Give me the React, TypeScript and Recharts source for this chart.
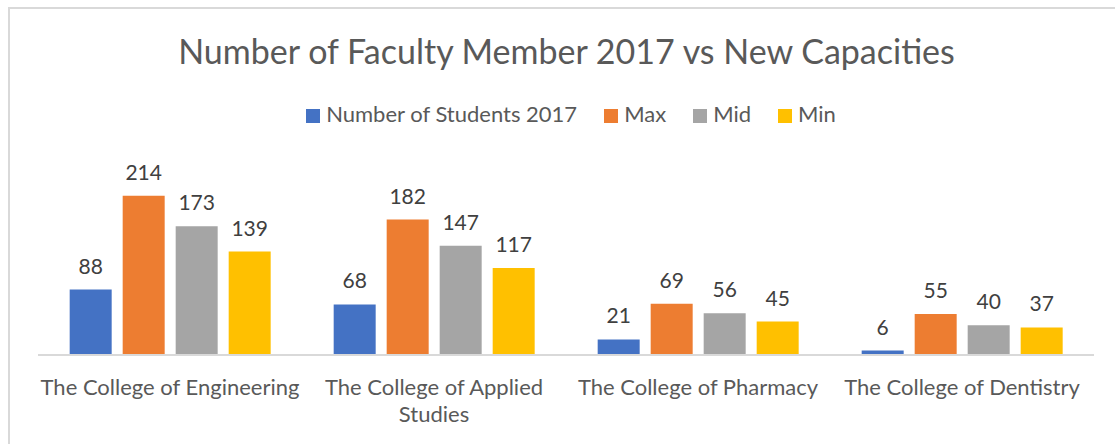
import React from 'react';
import { BarChart, Bar, XAxis, YAxis, Legend, LabelList } from 'recharts';

const categories = [
  'The College of Engineering',
  'The College of Applied Studies',
  'The College of Pharmacy',
  'The College of Dentistry',
];
const students2017 = [88, 68, 21, 6];
const maxCapacity = [214, 182, 69, 55];
const midCapacity = [173, 147, 56, 40];
const minCapacity = [139, 117, 45, 37];

const series = [
  { key: 'Number of Students 2017', values: students2017, color: '#4472C4' },
  { key: 'Max', values: maxCapacity, color: '#ED7D31' },
  { key: 'Mid', values: midCapacity, color: '#A5A5A5' },
  { key: 'Min', values: minCapacity, color: '#FFC000' },
];
const seriesOrder = series.map(s => s.key);

const data = categories.map((name, i) => {
  const row: Record<string, string | number> = { name };
  series.forEach(s => {
    row[s.key] = s.values[i];
  });
  return row;
});

const FONT = 'Lato, "Open Sans", sans-serif';
const TEXT = '#595959';
const MAX_CHARS = 26;

// greedy word wrap, same break points as the original chart
const wrap = (label: string) => {
  const lines: string[] = [];
  let cur = '';
  label.split(' ').forEach(w => {
    const next = cur ? cur + ' ' + w : w;
    if (next.length > MAX_CHARS && cur) {
      lines.push(cur);
      cur = w;
    } else {
      cur = next;
    }
  });
  if (cur) lines.push(cur);
  return lines;
};

const CategoryTick = (props: any) => {
  const { x, y, payload } = props;
  const lines = wrap(String(payload.value));
  return (
    <text x={x} y={y + 32} textAnchor="middle" fontSize={22} fontFamily={FONT} fill={TEXT}>
      {lines.map((l, i) => (
        <tspan key={i} x={x} dy={i === 0 ? 0 : 27}>
          {l}
        </tspan>
      ))}
    </text>
  );
};

const App: React.FC = () => {
  return (
    <div style={{ position: 'absolute', left: 0, top: 0, width: 1115, height: 444, background: '#fff', fontFamily: FONT }}>
      <div
        style={{
          position: 'absolute',
          left: 8,
          top: 7,
          width: 1107,
          height: 437,
          borderTop: '2px solid #D9D9D9',
          borderLeft: '2px solid #D9D9D9',
          boxSizing: 'border-box',
        }}
      />
      <div
        style={{
          position: 'absolute',
          left: 0,
          top: 29,
          width: 1133,
          textAlign: 'center',
          fontSize: 34,
          color: TEXT,
          lineHeight: '44px',
        }}
      >
        Number of Faculty Member 2017 vs New Capacities
      </div>
      <div style={{ position: 'absolute', left: 0, top: 0 }}>
        <BarChart
          width={1115}
          height={444}
          data={data}
          margin={{ top: 142, right: 21, left: 38, bottom: 0 }}
          barCategoryGap="12%"
          barGap={11}
        >
          <XAxis
            dataKey="name"
            height={89}
            axisLine={{ stroke: '#D9D9D9', strokeWidth: 2 }}
            tickLine={false}
            interval={0}
            tick={<CategoryTick />}
          />
          <YAxis hide domain={[0, 250]} />
          <Legend
            verticalAlign="top"
            align="center"
            iconType="square"
            iconSize={14}
            itemSorter={(item: any) => seriesOrder.indexOf(item.value)}
            wrapperStyle={{ top: 100, left: 27, width: 1115, fontFamily: FONT, fontSize: 22 }}
            formatter={(value: string) => (
              <span style={{ color: TEXT, marginLeft: 2, marginRight: 17 }}>{value}</span>
            )}
          />
          {series.map(s => (
            <Bar key={s.key} dataKey={s.key} fill={s.color} isAnimationActive={false}>
              <LabelList
                dataKey={s.key}
                position="top"
                offset={16}
                fill="#404040"
                fontSize={21}
                fontFamily={FONT}
              />
            </Bar>
          ))}
        </BarChart>
      </div>
    </div>
  );
};

export default App;
